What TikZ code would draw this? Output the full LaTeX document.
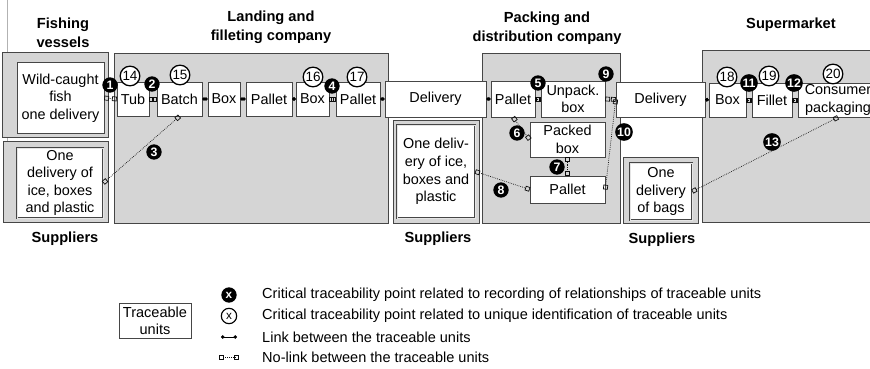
\documentclass[tikz,border=0pt]{standalone}
\usepackage{fontspec}
\setmainfont{Liberation Sans}
\usetikzlibrary{arrows.meta}

\newcommand{\unitfont}{\fontsize{12.3}{15}\selectfont}
\newcommand{\legfont}{\fontsize{12.4}{14}\selectfont}

\tikzset{
  company/.style={draw=gray!55!black, fill=gray!33, line width=0.6pt},
  unit/.style={draw=gray!55!black, fill=white, line width=0.5pt, align=center,
    inner sep=0pt, font=\unitfont},
  supply/.style={unit, double=gray!20, double distance=0.7pt},
  head/.style={align=center, inner sep=0pt, font=\bfseries\fontsize{12.5}{16.5}\selectfont},
  crit/.style={circle, fill=black, text=white, inner sep=0pt, minimum size=4.6mm,
    font=\bfseries\fontsize{10.5}{10.5}\selectfont},
  uid/.style={circle, draw=black, line width=1.1pt, fill=white, inner sep=0pt,
    minimum size=5.9mm, font=\fontsize{11.5}{11.5}\selectfont},
  link/.style={{Circle[length=3pt]}-{Circle[length=3pt]}, line width=0.7pt},
  nolink/.style={{Square[open, length=4pt, width=4pt]}-{Square[open, length=4pt, width=4pt]},
    densely dotted, line width=0.6pt, gray!10!black},
  legtext/.style={anchor=west, inner sep=0pt, font=\legfont}
}

\begin{document}
\begin{tikzpicture}[x=0.3mm, y=-0.3mm]
  \useasboundingbox (0,0) rectangle (870,369);
  \clip (0,0) rectangle (870,369);

  % areas of the chain
  \draw[gray!60, line width=0.4pt] (7,0) -- (7,188);
  \draw[company] (2,52) rectangle (108,137);
  \draw[company] (3,141) rectangle (108,222);
  \draw[company] (114,53) rectangle (388,223);
  \draw[company] (393,120) rectangle (479,223);
  \draw[company] (482,53) rectangle (620,223);
  \draw[company] (623,157) rectangle (698,223);
  \draw[company] (702,50) rectangle (880,222);

  \node[head] (hfish) at (63,33) {Fishing\\vessels};
  \node[head] (hland) at (271,27) {Landing and\\filleting company};
  \node[head] (hpack) at (547,28) {Packing and\\distribution company};
  \node[head] (hsuper) at (791,25) {Supermarket};
  \node[head] (hsup1) at (65,239) {Suppliers};
  \node[head] (hsup2) at (438,239) {Suppliers};
  \node[head] (hsup3) at (662,240) {Suppliers};

  % traceable units
  \node[unit, minimum width=26.1mm, minimum height=21.3mm] (fish) at (60.5,98) {Wild-caught\\fish\\one delivery};
  \node[supply, minimum width=25.8mm, minimum height=21mm] (ice1) at (60,183) {One\\delivery of\\ice, boxes\\and plastic};
  \node[unit, minimum width=9.6mm, minimum height=10.2mm] (tub) at (133,99) {Tub};
  \node[unit, minimum width=13.5mm, minimum height=10.2mm] (batch) at (179.5,99) {Batch};
  \node[unit, minimum width=9.6mm, minimum height=10.2mm] (box1) at (224,99) {Box};
  \node[unit, minimum width=13.8mm, minimum height=10.2mm] (pal1) at (269,99) {Pallet};
  \node[unit, minimum width=9.9mm, minimum height=10.2mm] (box2) at (312.5,99) {Box};
  \node[unit, minimum width=13.2mm, minimum height=10.2mm] (pal2) at (358,99) {Pallet};
  \node[unit, minimum width=30.3mm, minimum height=10.8mm] (del1) at (435.5,99) {Delivery};
  \node[supply, minimum width=23.4mm, minimum height=27.9mm] (ice2) at (436,171.5) {One deliv-\\ery of ice,\\boxes and\\plastic};
  \node[unit, minimum width=13.2mm, minimum height=10.8mm] (pal3) at (513,99) {Pallet};
  \node[unit, minimum width=19.2mm, minimum height=10.8mm] (unpack) at (573,99) {Unpack.\\box};
  \node[unit, minimum width=22.5mm, minimum height=10.5mm] (packed) at (567.5,139.5) {Packed\\box};
  \node[unit, minimum width=22.5mm, minimum height=8.1mm] (pal4) at (567.5,189.5) {Pallet};
  \node[unit, minimum width=26.7mm, minimum height=10.5mm] (del2) at (660.5,99.5) {Delivery};
  \node[supply, minimum width=18.6mm, minimum height=17.1mm] (bags) at (661,191.5) {One\\delivery\\of bags};
  \node[unit, minimum width=11.1mm, minimum height=10.2mm] (box3) at (727.5,100) {Box};
  \node[unit, minimum width=12mm, minimum height=10.2mm] (fillet) at (772,100) {Fillet};
  \node[unit, minimum width=24mm, minimum height=10.2mm] (cons) at (838,100) {Consumer\\packaging};

  % links
  \draw[link] (batch.east) -- (box1.west);
  \draw[link] (box1.east) -- (pal1.west);
  \draw[link] (pal1.east) -- (box2.west);
  \draw[link] (pal2.east) -- (del1.west);
  \draw[link] (del1.east) -- (pal3.west);
  \draw[link] (del2.east) -- (box3.west);

  % no-links
  \draw[nolink] (fish.east) -- (tub.west);
  \draw[nolink] (tub.east) -- (batch.west);
  \draw[nolink] (ice1.east) -- (batch.south);
  \draw[nolink] (box2.east) -- (pal2.west);
  \draw[nolink] (pal3.east) -- (unpack.west);
  \draw[nolink] (pal3.south) -- (packed.west);
  \draw[nolink] (packed.south) -- (pal4.north);
  \draw[nolink] (ice2.east) -- (pal4.west);
  \draw[nolink] (unpack.east) -- (del2.west);
  \draw[nolink] (pal4.east) -- (del2.west);
  \draw[nolink] (box3.east) -- (fillet.west);
  \draw[nolink] (fillet.east) -- (cons.west);
  \draw[nolink] (bags.east) -- (cons.south);

  % critical traceability points
  \node[crit] (c1) at (110,85) {1};
  \node[crit] (c2) at (152,84) {2};
  \node[crit] (c3) at (154,152) {3};
  \node[crit] (c4) at (332,86) {4};
  \node[crit] (c5) at (538,83) {5};
  \node[crit] (c6) at (517,133) {6};
  \node[crit] (c7) at (557,167) {7};
  \node[crit] (c8) at (501,190) {8};
  \node[crit] (c9) at (606,74) {9};
  \node[crit, minimum size=5.3mm] (c10) at (624,132) {10};
  \node[crit, minimum size=5.3mm] (c11) at (749,83) {11};
  \node[crit, minimum size=5.3mm] (c12) at (794,83) {12};
  \node[crit, minimum size=5.3mm] (c13) at (772,142) {13};

  \node[uid] (u14) at (130,76) {14};
  \node[uid] (u15) at (180,75) {15};
  \node[uid] (u16) at (313,77) {16};
  \node[uid] (u17) at (357,77) {17};
  \node[uid] (u18) at (727,77) {18};
  \node[uid] (u19) at (769,76) {19};
  \node[uid] (u20) at (833,74) {20};

  % legend
  \node[unit, minimum width=21.6mm, minimum height=10.5mm, font=\legfont] (lgunit) at (155,321) {Traceable\\units};
  \node[crit, minimum size=4.6mm, font=\bfseries\fontsize{10}{10}\selectfont] (lgcrit) at (229,295) {x};
  \node[uid, minimum size=4.6mm, line width=1pt, font=\fontsize{10}{10}\selectfont] (lguid) at (229,316) {x};
  \coordinate (lgl1) at (221,337);
  \coordinate (lgl2) at (237,337);
  \coordinate (lgn1) at (219,357);
  \coordinate (lgn2) at (239,357);
  \draw[link] (lgl1) -- (lgl2);
  \draw[nolink] (lgn1) -- (lgn2);
  \node[legtext] (lt1) at (262,295) {Critical traceability point related to recording of relationships of traceable units};
  \node[legtext] (lt2) at (262,316) {Critical traceability point related to unique identification of traceable units};
  \node[legtext] (lt3) at (262,337) {Link between the traceable units};
  \node[legtext] (lt4) at (262,357) {No-link between the traceable units};
\end{tikzpicture}
\end{document}
